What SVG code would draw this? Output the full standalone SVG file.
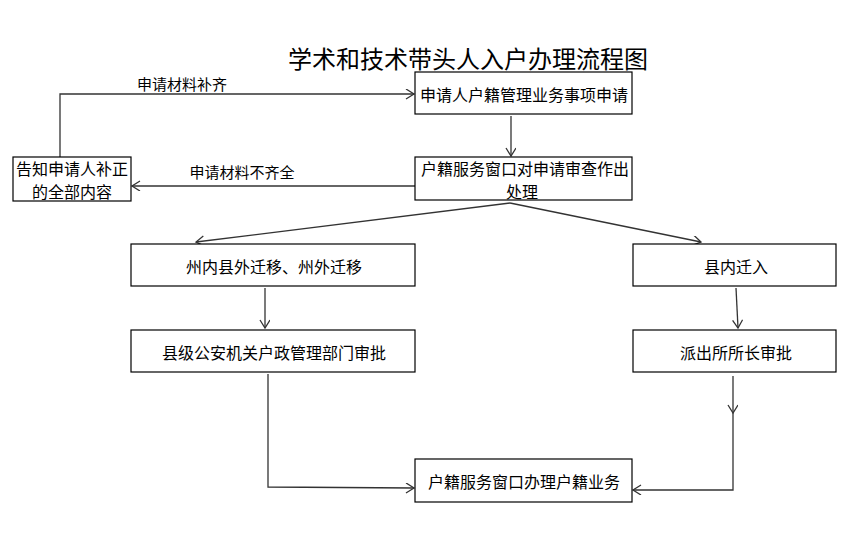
<svg xmlns="http://www.w3.org/2000/svg" width="854" height="557" viewBox="0 0 854 557">
<style>
.box{fill:#fff;stroke:#000;stroke-width:1.2}
.t{font-family:"Noto Sans CJK SC","Noto Sans",sans-serif;font-size:16px;fill:#000;text-anchor:middle;dominant-baseline:central}
.lbl{font-family:"Noto Sans CJK SC","Noto Sans",sans-serif;font-size:15px;fill:#000;text-anchor:middle;dominant-baseline:central}
.title{font-family:"Noto Sans CJK SC","Noto Sans",sans-serif;font-size:24px;fill:#000;text-anchor:middle;dominant-baseline:central}
.c{fill:none;stroke:#333;stroke-width:1.3}
</style>
<defs>
<marker id="ah" markerWidth="12" markerHeight="12" refX="9" refY="5" orient="auto" markerUnits="userSpaceOnUse">
<path d="M1,0 L9,5 L1,10" fill="none" stroke="#333" stroke-width="1.3"/>
</marker>
</defs>
<rect width="854" height="557" fill="#fff"/>
<text class="title" x="468" y="57">学术和技术带头人入户办理流程图</text>
<g id="connectors">
<path class="c" d="M60,157 L60,94 L414,94" marker-end="url(#ah)"/>
<path class="c" d="M511,116 L511,156" marker-end="url(#ah)"/>
<path class="c" d="M415,186 L132,186" marker-end="url(#ah)"/>
<path class="c" d="M510,203 L196,242" marker-end="url(#ah)"/>
<path class="c" d="M510,203 L701,242" marker-end="url(#ah)"/>
<path class="c" d="M265,288 L265,328" marker-end="url(#ah)"/>
<path class="c" d="M736,288 L738,328" marker-end="url(#ah)"/>
<path class="c" d="M268,374 L268,487 L414,488" marker-end="url(#ah)"/>
<path class="c" d="M733,376 L733,413" marker-end="url(#ah)"/>
<path class="c" d="M733,413 L733,490 L633,490" marker-end="url(#ah)"/>
<text class="lbl" x="182" y="83">申请材料补齐</text>
<text class="lbl" x="242" y="171">申请材料不齐全</text>
</g>
<g id="n1"><rect class="box" x="415" y="72" width="217" height="42"/><text class="t" x="524" y="94">申请人户籍管理业务事项申请</text></g>
<g id="n2"><rect class="box" x="415" y="157" width="217" height="43"/><text class="t" x="525" y="168">户籍服务窗口对申请审查作出</text><text class="t" x="522" y="191">处理</text></g>
<g id="n3"><rect class="box" x="13" y="157" width="118" height="44"/><text class="t" x="72" y="168">告知申请人补正</text><text class="t" x="72" y="191">的全部内容</text></g>
<g id="n4"><rect class="box" x="131" y="244" width="284" height="42"/><text class="t" x="274" y="266">州内县外迁移、州外迁移</text></g>
<g id="n5"><rect class="box" x="633" y="244" width="203" height="42"/><text class="t" x="736" y="266">县内迁入</text></g>
<g id="n6"><rect class="box" x="131" y="330" width="284" height="42"/><text class="t" x="274" y="352">县级公安机关户政管理部门审批</text></g>
<g id="n7"><rect class="box" x="633" y="330" width="203" height="42"/><text class="t" x="736" y="352">派出所所长审批</text></g>
<g id="n8"><rect class="box" x="415" y="459" width="217" height="43"/><text class="t" x="524" y="481">户籍服务窗口办理户籍业务</text></g>
</svg>
